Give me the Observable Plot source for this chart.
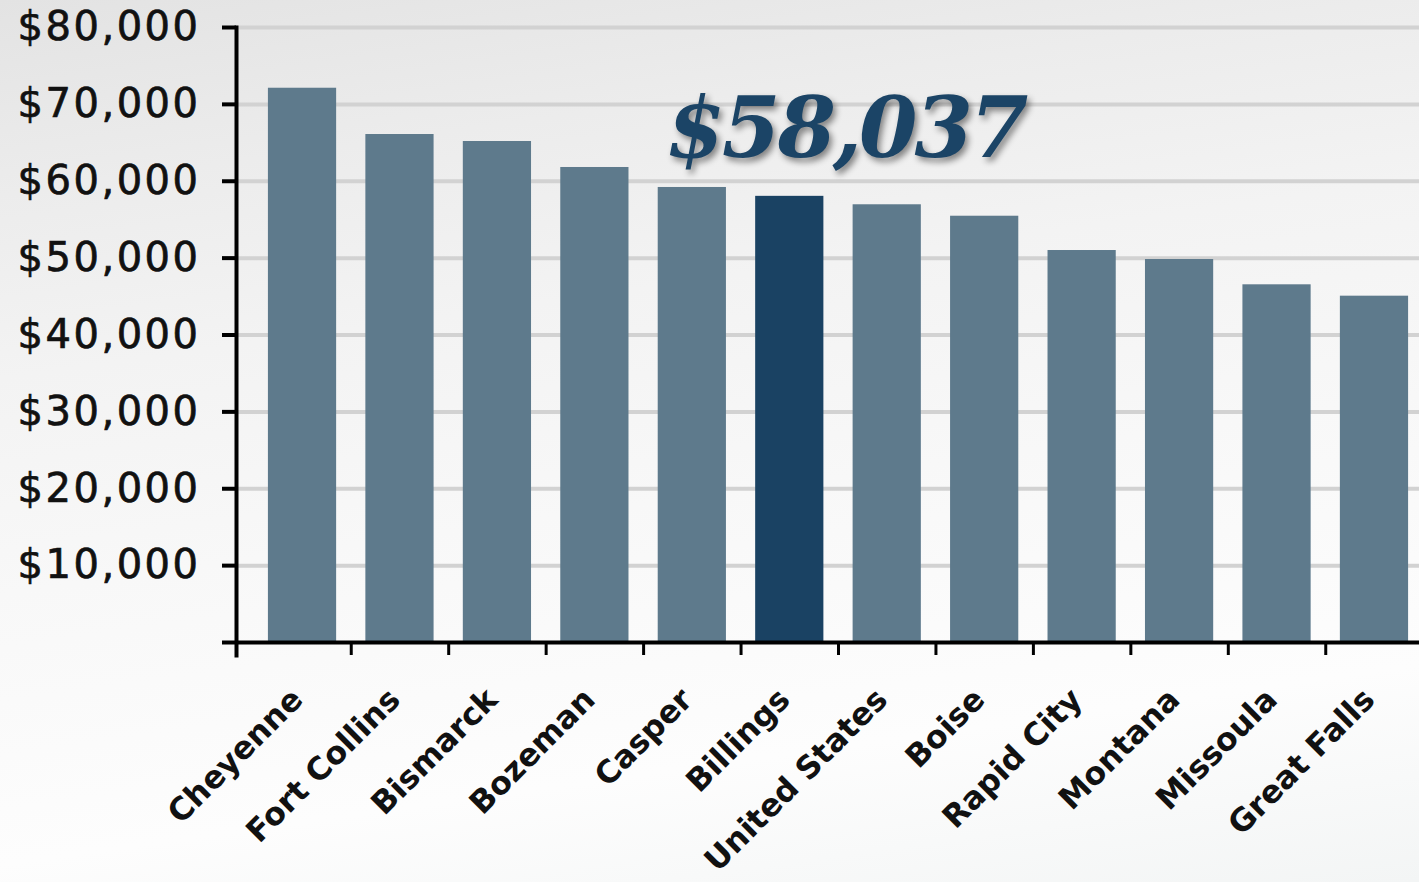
<!DOCTYPE html>
<html><head><meta charset="utf-8">
<script src="https://cdn.jsdelivr.net/npm/d3@7"></script>
<script src="https://cdn.jsdelivr.net/npm/@observablehq/plot@0.6"></script>
<style>
html,body{margin:0;padding:0;width:1419px;height:882px;overflow:hidden;
background: linear-gradient(172deg, #e3e3e3 0%, #ececec 18%, #f3f3f3 35%, #f8f8f8 55%, #fdfdfd 80%, #f3f5f5 100%);}
#chart svg{display:block;overflow:visible}
g[aria-label="y-axis tick label"] text{letter-spacing:2.5px;stroke:#111;stroke-width:0.7px}
</style></head><body><div id="chart"></div><script>
const cities = ["Cheyenne","Fort Collins","Bismarck","Bozeman","Casper","Billings","United States","Boise","Rapid City","Montana","Missoula","Great Falls"];
const incomes = [72100, 66080, 65170, 61790, 59190, 58037, 56940, 55450, 50990, 49820, 46530, 45050];
const highlight = "Billings";
const headline = ["$58,037"];
const yTicks = [0, 10000, 20000, 30000, 40000, 50000, 60000, 70000, 80000];

const data = cities.map((c, i) => ({city: c, income: incomes[i]}));
const step = 97.45;
const fmt = d3.format(",");

const chart = Plot.plot({
  width: 1419, height: 882,
  marginLeft: 236, marginRight: 0, marginTop: 27, marginBottom: 240,
  style: {background: "transparent", fontFamily: "DejaVu Sans", overflow: "visible"},
  x: {domain: cities, range: [236, 1440], paddingInner: 0.3, paddingOuter: 0.3275, round: false, axis: null},
  y: {domain: [0, 80000], axis: null},
  marks: [
    Plot.ruleY(yTicks.slice(1), {y: d => d, stroke: "#d2d2d2", strokeWidth: 4}),
    Plot.barY(data.filter(d => d.city !== highlight), {x: "city", y: "income", fill: "#5e7a8c"}),
    Plot.barY(data.filter(d => d.city === highlight), {x: "city", y: "income", fill: "#1a4263"}),
    Plot.ruleY([0], {stroke: "#000", strokeWidth: 4}),
    Plot.frame({anchor: "left", stroke: "#000", strokeWidth: 4, insetBottom: -13}),
    Plot.ruleX(cities.slice(1), {x: d => d, dx: -step / 2, y1: 0, y2: 0, insetBottom: -13, stroke: "#000", strokeWidth: 3}),
    Plot.axisY({ticks: yTicks, tickSize: 14, tickPadding: 22, strokeWidth: 4, stroke: "#000", label: null,
      fontSize: 40, fill: "#111", tickFormat: d => d === 0 ? "" : "$" + fmt(d)}),
    Plot.text(cities, {x: d => d, frameAnchor: "bottom", dx: 2, dy: 59, rotate: -45, textAnchor: "end",
      fontSize: 31.5, fontWeight: "bold", fill: "#111", text: d => d}),
    Plot.text(headline, {frameAnchor: "top", dx: 18, dy: 70, text: d => d, fontSize: 84,
      fontFamily: "DejaVu Serif", fontWeight: "bold", fontStyle: "italic", fill: "#1b4466"})
  ]
});
document.getElementById("chart").appendChild(chart);
d3.select(chart).selectAll("text").filter(function(){ return this.textContent === headline[0]; })
  .style("letter-spacing", "-3px")
  .style("filter", "drop-shadow(3px 4px 3px rgba(0,0,0,0.45))");
</script></body></html>
